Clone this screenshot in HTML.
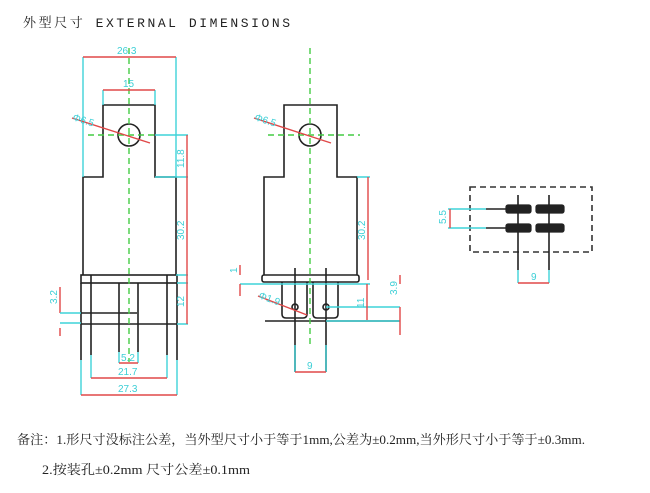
<!DOCTYPE html>
<html><head><meta charset="utf-8"><style>
html,body{margin:0;padding:0;background:#fff;width:650px;height:493px;overflow:hidden}
svg{display:block}
text{font-family:"Liberation Sans",sans-serif}
.k{stroke:#222;stroke-width:1.6;fill:none}
.c{stroke:#3fd3d8;stroke-width:1.4;fill:none}
.r{stroke:#e04848;stroke-width:1.4;fill:none}
.g{stroke:#44cc44;stroke-width:1.4;fill:none;stroke-dasharray:6 4}
.t{fill:#3ccfd6;font-size:10px}
.n{font-family:"Liberation Serif","Noto Serif CJK SC",serif;fill:#222;font-size:13px}
</style></head><body>
<svg width="650" height="493" viewBox="0 0 650 493">
<text x="23" y="27" class="n" textLength="267" lengthAdjust="spacing" style="font-family:'Liberation Mono','Noto Serif CJK SC',monospace;font-size:13px">外型尺寸 EXTERNAL DIMENSIONS</text>

<!-- LEFT VIEW -->
<path class="k" d="M83,275 V177 H103 V105 H155 V177 H176 V275"/>
<circle class="k" cx="129" cy="135" r="11"/>
<rect class="k" x="81" y="275" width="96" height="8"/>
<line class="k" x1="81" y1="283" x2="81" y2="360"/><line class="k" x1="177" y1="283" x2="177" y2="360"/>
<line class="k" x1="91" y1="275" x2="91" y2="355"/><line class="k" x1="167" y1="275" x2="167" y2="355"/>
<line class="k" x1="119" y1="283" x2="119" y2="352"/><line class="k" x1="138" y1="283" x2="138" y2="352"/>
<line class="k" x1="81" y1="313" x2="137" y2="313"/><line class="k" x1="81" y1="324" x2="177" y2="324"/>
<line class="g" x1="129" y1="48" x2="129" y2="362"/>
<line class="g" x1="88" y1="135" x2="155" y2="135"/>
<path class="c" d="M83,57 V177 M176,57 V177 M103,90 V105 M155,90 V105 M155,135 H188 M155,177 H188 M176,275 H188 M177,283 H188 M177,324 H188"/>
<line class="r" x1="83" y1="57" x2="176" y2="57"/><text class="t" x="117" y="54">26.3</text>
<line class="r" x1="103" y1="90" x2="155" y2="90"/><text class="t" x="123" y="87">15</text>
<line class="r" x1="72" y1="118" x2="150" y2="143"/><text class="t" x="72" y="120" transform="rotate(18 72 120)">Φ6.5</text>
<line class="r" x1="187" y1="135" x2="187" y2="177"/><text class="t" transform="translate(184,168) rotate(-90)">11.8</text>
<line class="r" x1="187" y1="177" x2="187" y2="283"/><text class="t" transform="translate(184,240) rotate(-90)">30.2</text>
<line class="r" x1="187" y1="283" x2="187" y2="324"/><text class="t" transform="translate(184,307) rotate(-90)">12</text>
<line class="r" x1="60" y1="287" x2="60" y2="313"/><text class="t" transform="translate(57,304) rotate(-90)">3.2</text>
<path class="c" d="M60,313 H81 M60,323 H81"/>
<line class="r" x1="60" y1="328" x2="60" y2="336"/>
<path class="c" d="M81,360 V395 M177,360 V395 M91,355 V378 M167,355 V378 M119,352 V363 M138,352 V363"/>
<line class="r" x1="81" y1="395" x2="177" y2="395"/><text class="t" x="118" y="392">27.3</text>
<line class="r" x1="91" y1="378" x2="167" y2="378"/><text class="t" x="118" y="375">21.7</text>
<line class="r" x1="119" y1="363" x2="138" y2="363"/><text class="t" x="121" y="361">5.2</text>

<!-- MIDDLE VIEW -->
<path class="k" d="M264,275 V177 H284 V105 H337 V177 H357 V275"/>
<circle class="k" cx="310" cy="135" r="11"/>
<rect class="k" x="262" y="275" width="97" height="7" rx="2"/>
<path class="k" d="M282,282 V314 Q282,318 286,318 H303 Q307,318 307,314 V282"/>
<path class="k" d="M313,282 V314 Q313,318 317,318 H334 Q338,318 338,314 V282"/>
<line class="k" x1="295" y1="268" x2="295" y2="372"/><line class="k" x1="326" y1="268" x2="326" y2="372"/>
<circle class="k" cx="295" cy="307" r="3"/><circle class="k" cx="326" cy="307" r="3"/>
<line class="k" x1="265" y1="321" x2="400" y2="321"/>
<line class="g" x1="310" y1="48" x2="310" y2="345"/>
<line class="g" x1="268" y1="135" x2="360" y2="135"/>
<line class="r" x1="254" y1="118" x2="331" y2="143"/><text class="t" x="254" y="120" transform="rotate(18 254 120)">Φ6.5</text>
<path class="c" d="M357,177 H370 M240,284 H370 M326,307 H400 M326,321 H400"/>
<line class="r" x1="368" y1="177" x2="368" y2="280"/><text class="t" transform="translate(365,240) rotate(-90)">30.2</text>
<line class="r" x1="367" y1="284" x2="367" y2="320"/><text class="t" transform="translate(364,308) rotate(-90)">11</text>
<line class="r" x1="400" y1="275" x2="400" y2="284"/><line class="r" x1="400" y1="307" x2="400" y2="335"/>
<text class="t" transform="translate(397,295) rotate(-90)">3.9</text>
<line class="r" x1="240" y1="265" x2="240" y2="275"/><line class="r" x1="240" y1="284" x2="240" y2="296"/>
<text class="t" transform="translate(237,273) rotate(-90)">1</text>
<line class="r" x1="258" y1="296" x2="307" y2="315"/><text class="t" x="258" y="298" transform="rotate(20 258 298)">Φ1.9</text>
<path class="c" d="M295,345 V372 M326,345 V372"/>
<line class="r" x1="295" y1="372" x2="326" y2="372"/><text class="t" x="307" y="369">9</text>

<!-- RIGHT VIEW -->
<rect x="470" y="187" width="122" height="65" fill="none" stroke="#333" stroke-width="1.6" stroke-dasharray="6 4"/>
<path class="k" d="M486,209 H507 M486,228 H507"/>
<g fill="#222" stroke="#222" stroke-width="1.2">
<rect x="506" y="205" width="25" height="8" rx="2"/><rect x="536" y="205" width="28" height="8" rx="2"/>
<rect x="506" y="224" width="25" height="8" rx="2"/><rect x="536" y="224" width="28" height="8" rx="2"/>
</g>
<line class="k" x1="518" y1="195" x2="518" y2="270"/><line class="k" x1="549" y1="195" x2="549" y2="270"/>
<path class="c" d="M448,209 H486 M448,228 H486 M518,270 V283 M549,270 V283"/>
<line class="r" x1="450" y1="209" x2="450" y2="228"/><text class="t" transform="translate(446,224) rotate(-90)">5.5</text>
<line class="r" x1="518" y1="283" x2="549" y2="283"/><text class="t" x="531" y="280">9</text>

<!-- NOTES -->
<text class="n" x="17" y="444" textLength="568" lengthAdjust="spacingAndGlyphs">备注：1.形尺寸没标注公差，当外型尺寸小于等于1mm,公差为±0.2mm,当外形尺寸小于等于±0.3mm.</text>
<text class="n" x="42" y="474" textLength="208" lengthAdjust="spacingAndGlyphs">2.按装孔±0.2mm 尺寸公差±0.1mm</text>
</svg>
</body></html>
